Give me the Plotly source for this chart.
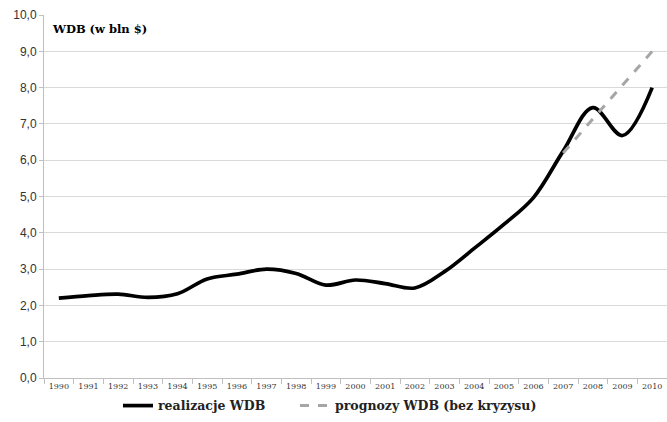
import plotly.graph_objects as go

years = [str(y) for y in range(1990, 2011)]
realizacje = [2.2, 2.27, 2.31, 2.22, 2.32, 2.73, 2.86, 3.0, 2.88, 2.56, 2.7,
              2.6, 2.48, 2.93, 3.57, 4.23, 4.97, 6.25, 7.45, 6.68, 8.0]
prognoza_years = ["2007", "2008", "2009", "2010"]
prognoza = [6.2, 7.13, 8.07, 9.0]

serif = "DejaVu Serif"
sans = "Liberation Sans"

fig = go.Figure()
fig.add_trace(go.Scatter(
    x=years, y=realizacje, mode="lines", name="<b>realizacje WDB</b>",
    line=dict(color="#000000", width=3.7, shape="spline", smoothing=1.0),
    legend="legend",
))
fig.add_trace(go.Scatter(
    x=prognoza_years, y=prognoza, mode="lines", name="<b>prognozy WDB (bez kryzysu)</b>",
    line=dict(color="#a6a6a6", width=3, dash="dash"),
    legend="legend2",
))

fig.add_annotation(
    text="<b>WDB (w bln $)</b>", xref="paper", yref="paper", x=0.01, y=0.985,
    xanchor="left", yanchor="top", showarrow=False,
    font=dict(family=serif, size=11.5, color="#000000"),
)

legend_style = dict(orientation="h", xref="container", xanchor="left",
                    yref="container", y=0.038, yanchor="middle",
                    font=dict(family=serif, size=12.5, color="#222222"),
                    itemwidth=30, bgcolor="rgba(0,0,0,0)")

fig.update_layout(
    width=667, height=422,
    margin=dict(l=44, r=0, t=15, b=44, autoexpand=False),
    paper_bgcolor="white", plot_bgcolor="white",
    separators=", ",
    showlegend=True,
    legend=dict(x=118 / 667, **legend_style),
    legend2=dict(x=295 / 667, **legend_style),
    xaxis=dict(
        type="category", range=[-0.5, 20.5], tickson="boundaries",
        showgrid=False, showline=True, linecolor="#bfbfbf", linewidth=1,
        ticks="outside", ticklen=5, tickcolor="#bfbfbf", tickangle=0,
        tickfont=dict(family=serif, size=8, color="#333333"),
    ),
    yaxis=dict(
        range=[0, 10], dtick=1, tickformat=".1f",
        showgrid=True, gridcolor="#d9d9d9", gridwidth=1,
        showline=True, linecolor="#bfbfbf", linewidth=1,
        ticks="outside", ticklen=4, tickcolor="#bfbfbf",
        tickfont=dict(family=sans, size=12, color="#333333"),
        zeroline=False,
    ),
)

fig.write_html("out.html")
